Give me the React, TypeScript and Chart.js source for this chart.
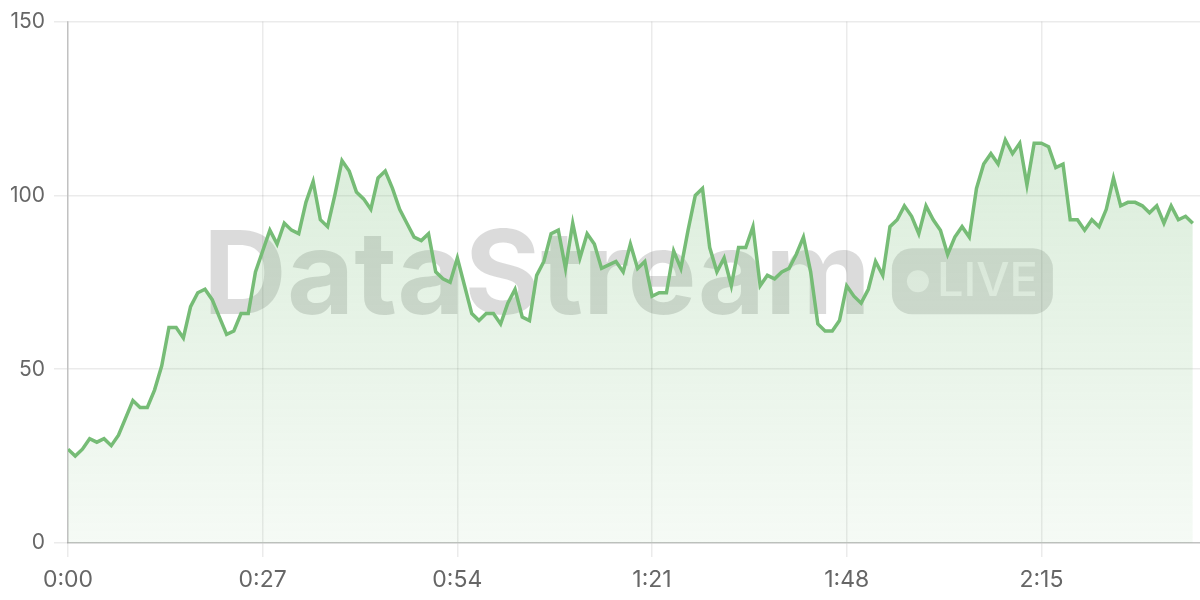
import React, { useEffect, useRef } from 'react';
import { Chart, registerables } from 'chart.js';

Chart.register(...registerables);

// Values sampled once per second (0..156 s)
const VALUES: number[] = [
  27, 25, 27, 30, 29, 30, 28, 31, 36, 41,
  39, 39, 44, 51, 62, 62, 59, 68, 72, 73,
  70, 65, 60, 61, 66, 66, 78, 84, 90, 86,
  92, 90, 89, 98, 104, 93, 91, 100, 110, 107,
  101, 99, 96, 105, 107, 102, 96, 92, 88, 87,
  89, 78, 76, 75, 82, 74, 66, 64, 66, 66,
  63, 69, 73, 65, 64, 77, 81, 89, 90, 79,
  92, 82, 89, 86, 79, 80, 81, 78, 86, 79,
  81, 71, 72, 72, 84, 79, 90, 100, 102, 85,
  78, 82, 74, 85, 85, 91, 74, 77, 76, 78,
  79, 83, 88, 78, 63, 61, 61, 64, 74, 71,
  69, 73, 81, 77, 91, 93, 97, 94, 89, 97,
  93, 90, 83, 88, 91, 88, 102, 109, 112, 109,
  116, 112, 115, 103, 115, 115, 114, 108, 109, 93,
  93, 90, 93, 91, 96, 105, 97, 98, 98, 97,
  95, 97, 92, 97, 93, 94, 92,
];

const TICK_SECONDS: number[] = [0, 27, 54, 81, 108, 135];
const TICK_LABELS: string[] = ['0:00', '0:27', '0:54', '1:21', '1:48', '2:15'];
const X_MAX = 157;
const Y_MIN = 0;
const Y_MAX = 150;
const Y_STEP = 50;

const WATERMARK_TEXT = 'DataStream';
const BADGE_TEXT = 'LIVE';

const LINE_COLOR = 'rgb(118,188,118)';
const FONT_FAMILY = 'Inter, "Noto Sans", sans-serif';

const watermarkPlugin = {
  id: 'watermark',
  beforeDatasetsDraw(chart: any) {
    const { ctx, chartArea } = chart;
    if (!chartArea) return;
    ctx.save();
    const cx = (chartArea.left + chartArea.right) / 2 - 6;
    const cy = (chartArea.top + chartArea.bottom) / 2;
    ctx.font = `700 116px ${FONT_FAMILY}`;
    const tw = ctx.measureText(WATERMARK_TEXT).width;
    const gap = 21;
    const badgeW = 161;
    const badgeH = 66;
    const total = tw + gap + badgeW;
    const x0 = cx - total / 2;
    const baseline = cy + 32;
    ctx.fillStyle = 'rgba(0,0,0,0.14)';
    ctx.textAlign = 'left';
    ctx.textBaseline = 'alphabetic';
    ctx.fillText(WATERMARK_TEXT, x0, baseline);

    const bx = x0 + tw + gap;
    const by = cy - 1 - badgeH / 2;
    const r = 20;
    ctx.beginPath();
    ctx.moveTo(bx + r, by);
    ctx.lineTo(bx + badgeW - r, by);
    ctx.arcTo(bx + badgeW, by, bx + badgeW, by + r, r);
    ctx.lineTo(bx + badgeW, by + badgeH - r);
    ctx.arcTo(bx + badgeW, by + badgeH, bx + badgeW - r, by + badgeH, r);
    ctx.lineTo(bx + r, by + badgeH);
    ctx.arcTo(bx, by + badgeH, bx, by + badgeH - r, r);
    ctx.lineTo(bx, by + r);
    ctx.arcTo(bx, by, bx + r, by, r);
    ctx.closePath();
    ctx.fillStyle = 'rgba(0,0,0,0.13)';
    ctx.fill();

    ctx.fillStyle = 'rgba(255,255,255,0.65)';
    ctx.beginPath();
    ctx.arc(bx + 26, cy - 1, 11, 0, Math.PI * 2);
    ctx.fill();
    ctx.font = `500 47px ${FONT_FAMILY}`;
    ctx.textBaseline = 'middle';
    ctx.fillText(BADGE_TEXT, bx + 45, cy);
    ctx.restore();
  },
};

export default function App() {
  const canvasRef = useRef<HTMLCanvasElement | null>(null);

  useEffect(() => {
    document.body.style.margin = '0';
    const canvas = canvasRef.current;
    if (!canvas) return;
    const points = VALUES.map((v, i) => ({ x: i, y: v }));
    const chart = new Chart(canvas, {
      type: 'line',
      data: {
        datasets: [
          {
            data: points,
            borderColor: LINE_COLOR,
            borderWidth: 3.5,
            pointRadius: 0,
            tension: 0,
            fill: 'start',
            backgroundColor: (c: any) => {
              const { chart: ch } = c;
              const area = ch.chartArea;
              if (!area) return 'rgba(118,188,118,0.15)';
              const g = ch.ctx.createLinearGradient(0, area.top, 0, area.bottom);
              g.addColorStop(0, 'rgba(118,188,118,0.32)');
              g.addColorStop(1, 'rgba(118,188,118,0.07)');
              return g;
            },
          },
        ],
      },
      options: {
        animation: false,
        responsive: false,
        maintainAspectRatio: false,
        layout: { padding: { top: 8, left: 6, right: 0, bottom: 0 } },
        plugins: {
          legend: { display: false },
          tooltip: { enabled: false },
        },
        scales: {
          x: {
            type: 'linear',
            min: 0,
            max: X_MAX,
            afterFit: (scale: any) => {
              scale.height = 57;
            },
            grid: {
              color: 'rgba(0,0,0,0.08)',
              tickLength: 14,
              lineWidth: 1.5,
            },
            border: { color: 'rgba(0,0,0,0.18)', width: 1.5 },
            ticks: {
              stepSize: 27,
              includeBounds: false,
              autoSkip: false,
              maxRotation: 0,
              padding: 9,
              color: '#666',
              font: { family: FONT_FAMILY, size: 23 },
              callback: (value: any) => {
                const idx = TICK_SECONDS.indexOf(Number(value));
                return idx >= 0 ? TICK_LABELS[idx] : null;
              },
            },
          },
          y: {
            min: Y_MIN,
            max: Y_MAX,
            afterFit: (scale: any) => {
              scale.width = 62;
            },
            grid: {
              color: 'rgba(0,0,0,0.08)',
              tickLength: 14,
              lineWidth: 1.5,
            },
            border: { color: 'rgba(0,0,0,0.18)', width: 1.5 },
            ticks: {
              stepSize: Y_STEP,
              padding: 9,
              color: '#666',
              font: { family: FONT_FAMILY, size: 21 },
            },
          },
        },
      },
      plugins: [watermarkPlugin],
    } as any);
    return () => chart.destroy();
  }, []);

  return (
    <div style={{ width: 1200, height: 600 }}>
      <canvas ref={canvasRef} width={1200} height={600} />
    </div>
  );
}
